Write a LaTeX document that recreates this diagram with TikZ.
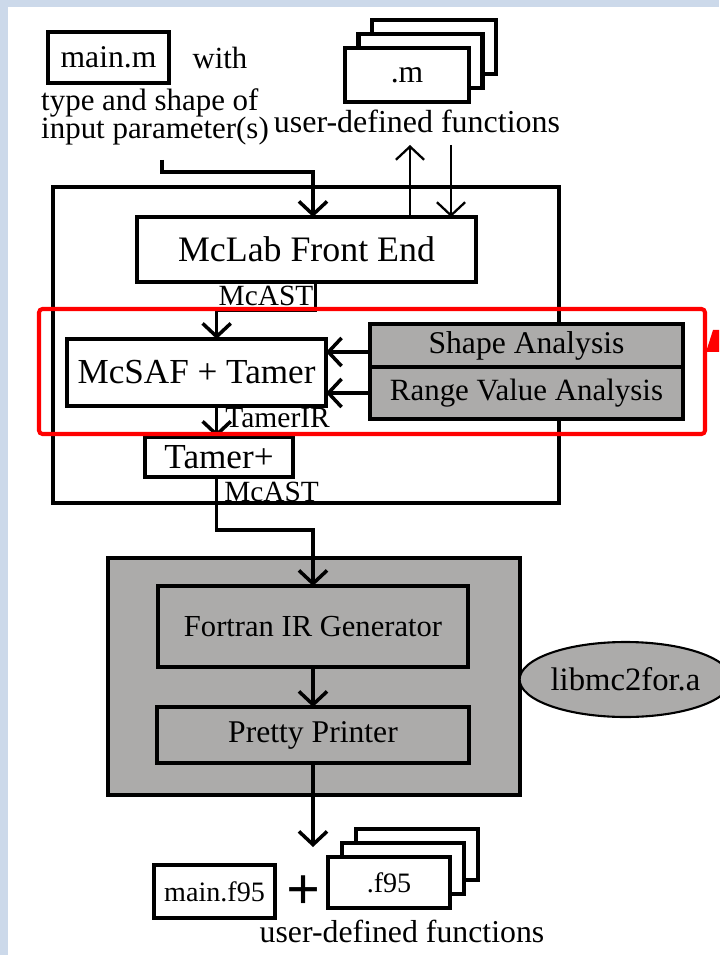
\documentclass[tikz,border=0pt]{standalone}
\usepackage{fontspec}
\setmainfont{Liberation Serif}
\usetikzlibrary{arrows.meta,positioning,shapes.geometric}
\definecolor{passgray}{RGB}{172,171,170}
\definecolor{slideblue}{RGB}{204,217,234}
\tikzset{module/.style={rectangle,draw=black,line width=2.4pt,fill=white,inner sep=0pt,outer sep=0pt},
		graymod/.style={module,fill=passgray},
		lbl/.style={inner sep=0pt,font=\fontsize{16.7}{18}\selectfont},
		flow/.style={-{Straight Barb[length=7.5pt,width=16pt]},line width=2pt},
		thinflow/.style={-{Straight Barb[length=7.5pt,width=16pt]},line width=1.3pt}}

\begin{document}
\begin{tikzpicture}[x=0.02cm,y=-0.02cm]
		\useasboundingbox (0,0) rectangle (719,955);
		\fill[slideblue] (0,0) rectangle (719,955);
		\fill[white] (8,7) rectangle (719,955);

		% inputs
		\node[module,minimum width=2.42cm,minimum height=1.02cm,font=\fontsize{18}{20}\selectfont] (mainm) at (108.5,57.5) {main.m};
		\node[lbl,font=\fontsize{17.5}{20}\selectfont] (with) at (220,58) {with};
		\node[lbl,align=left,font={\fontsize{17.6}{15.5}\selectfont\lineskiplimit=-30pt}] (params) at (155,117) {type and shape of\\input parameter(s)};
		\foreach \k in {2,1}
			\node[module,minimum width=2.48cm,minimum height=1.08cm] (mstack\k) at (407+13.5*\k,75-14*\k) {};
		\node[module,minimum width=2.48cm,minimum height=1.08cm,font=\fontsize{18}{20}\selectfont] (mfile) at (407,75) {.m};
		\node[lbl,font=\fontsize{18.2}{20}\selectfont] (userfn) at (417,121) {user-defined functions};

		% front end + tamer
		\draw[line width=2pt] (53,187) rectangle (559,503);
		\node[module,minimum width=6.78cm,minimum height=1.3cm,font=\fontsize{20.4}{22}\selectfont] (fe) at (306.5,249.5) {McLab Front End};
		\coordinate (inp) at (162,160);
		\draw[flow] (inp) -- ++(0,12) -| ([xshift=0.13cm]fe.north);
		\coordinate (fnout) at (410,145);
		\coordinate (fnin) at (451,145);
		\draw[thinflow] (fe.north -| fnout) -- (fnout);
		\draw[thinflow] (fnin) -- (fe.north -| fnin);

		\node[lbl,minimum width=1.96cm,minimum height=0.56cm] (ast1) at (266,296) {McAST};
		\draw[line width=2pt] (ast1.north east) |- (ast1.south west);
		\node[module,minimum width=5.18cm,minimum height=1.34cm,font=\fontsize{20}{22}\selectfont] (mcsaf) at (196.5,372.5) {McSAF + Tamer};
		\draw[flow] (ast1.south west) -- (ast1.south west |- mcsaf.north);

		\node[graymod,minimum width=6.26cm,minimum height=0.86cm,font=\fontsize{18}{20}\selectfont] (shape) at (526.5,345.5) {Shape Analysis};
		\node[graymod,minimum width=6.26cm,minimum height=1.04cm,font=\fontsize{17.6}{20}\selectfont,below=0pt of shape] (range) {Range Value Analysis};
		\draw[flow] ([yshift=-0.13cm]shape.west) -- ([yshift=-0.13cm]shape.west -| mcsaf.east);
		\draw[flow] (range.west) -- (range.west -| mcsaf.east);

		\node[lbl,anchor=west,font=\fontsize{16.8}{18}\selectfont] (tamerir) at (225,418) {TamerIR};
		\node[module,minimum width=2.96cm,minimum height=0.8cm,font=\fontsize{20}{22}\selectfont] (tamerp) at (219,457) {Tamer+};
		\draw[flow] (mcsaf.south -| ast1.south west) -- (tamerp.north -| ast1.south west);
		\node[lbl,anchor=west] (ast2) at (224,492) {McAST};

		% back end
		\node[graymod,minimum width=8.24cm,minimum height=4.74cm] (backend) at (314,676.5) {};
		\node[graymod,minimum width=6.2cm,minimum height=1.62cm,font=\fontsize{17.4}{19}\selectfont] (fir) at (313,626.5) {Fortran IR Generator};
		\node[graymod,minimum width=6.24cm,minimum height=1.12cm,font=\fontsize{18}{20}\selectfont] (pp) at (313,735) {Pretty Printer};
		\draw[flow] (tamerp.south -| ast1.south west) -- ++(0,53) -| (fir.north);
		\draw[flow] (fir) -- (pp);
		\node[ellipse,draw,fill=passgray,line width=1.2pt,minimum width=3.3cm,minimum height=1.5cm,inner sep=0pt,font=\fontsize{18.6}{20}\selectfont] (lib) at (625.5,679.5) {libmc2for.a};

		% outputs
		\coordinate (outp) at (313,847);
		\draw[flow] (pp.south) -- (outp);
		\node[module,minimum width=2.42cm,minimum height=1.06cm,font=\fontsize{16}{18}\selectfont] (mainf) at (214.5,891.5) {main.f95};
		\node[inner sep=0pt,font=\fontsize{34}{34}\selectfont\bfseries] (plus) at (304,893) {+};
		\foreach \k in {2,1}
			\node[module,minimum width=2.44cm,minimum height=1.02cm] (fstack\k) at (389+14*\k,882.5-14*\k) {};
		\node[module,minimum width=2.44cm,minimum height=1.02cm,font=\fontsize{16}{18}\selectfont] (ffile) at (389,882.5) {.f95};
		\node[lbl,font=\fontsize{18.1}{20}\selectfont] (userfn2) at (402,931) {user-defined functions};

		% highlight
		\draw[red,line width=2.3pt,rounded corners=2pt] (39,309) rectangle (705,434);
		\fill[red] (719,330) -- (713,330) -- (706,352) -- (719,352) -- cycle;
	\end{tikzpicture}
\end{document}
